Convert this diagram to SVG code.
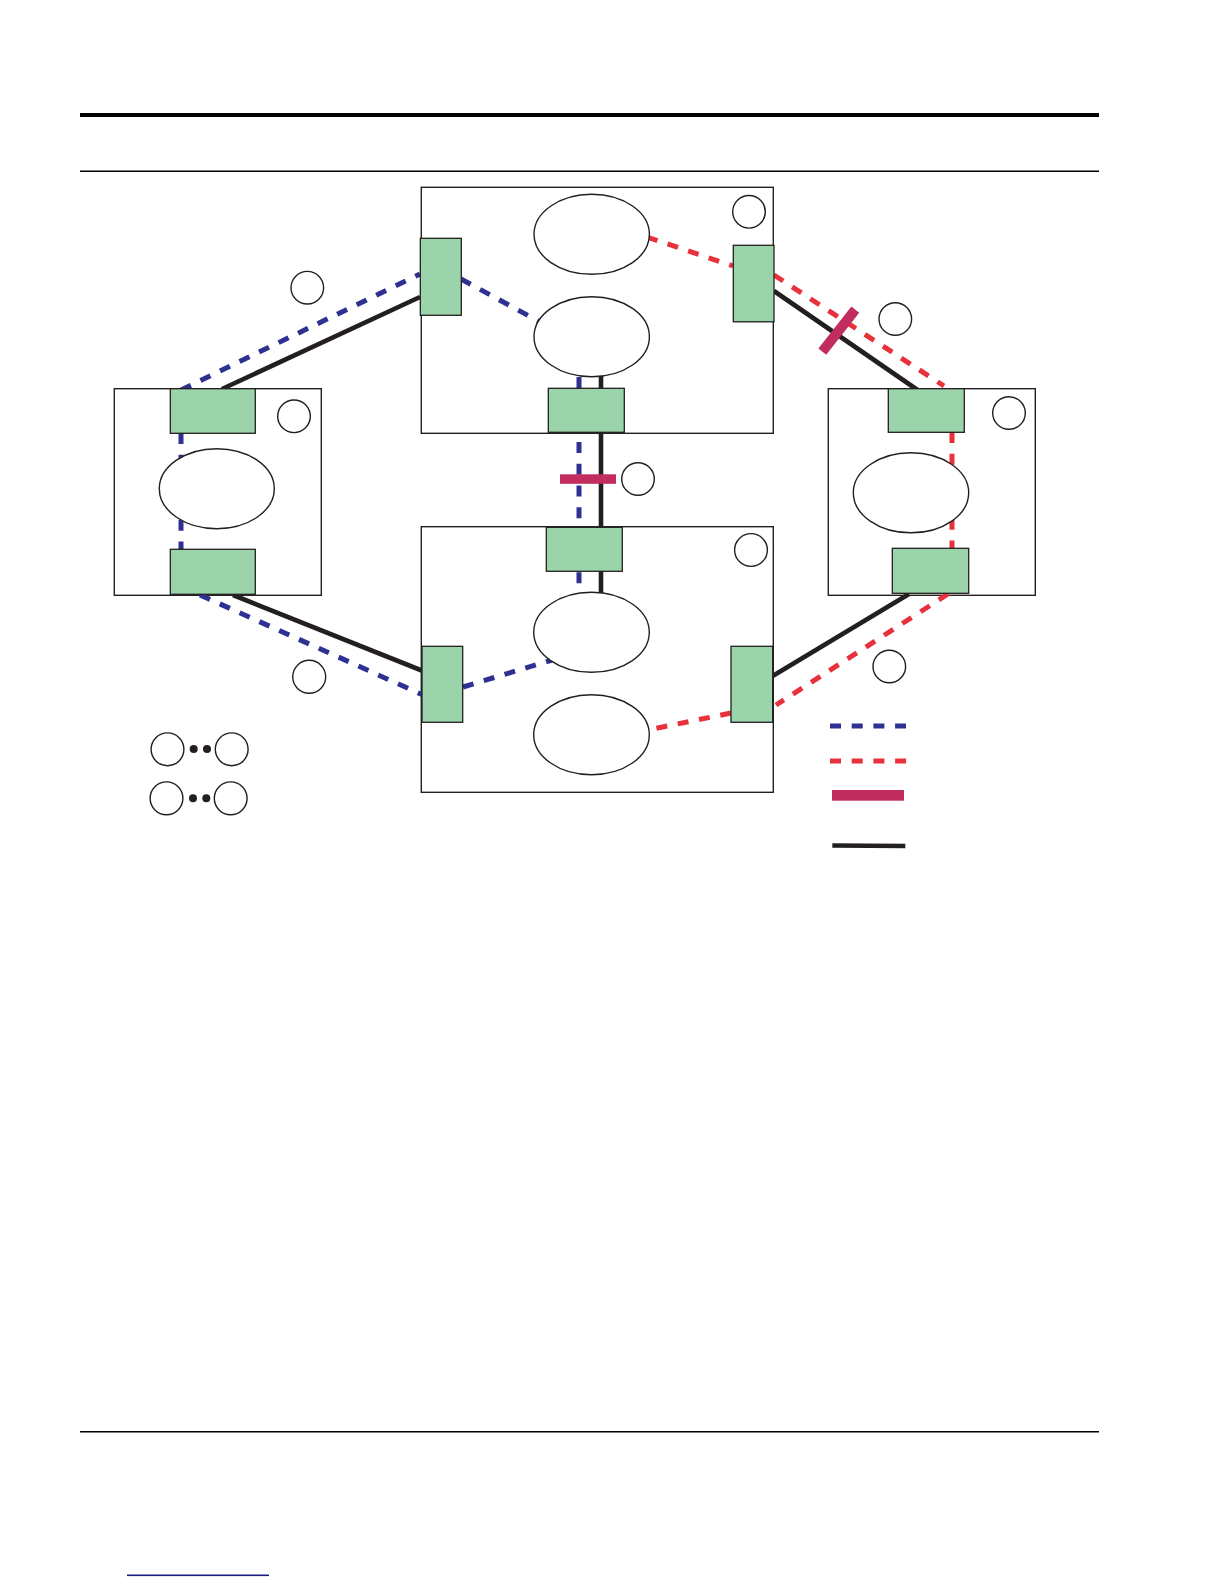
<svg xmlns="http://www.w3.org/2000/svg" width="1224" height="1584" viewBox="0 0 1224 1584">
<style>
.frame{fill:#fff;stroke:#231f20;stroke-width:1.4}
.port{fill:#9bd3aa;stroke:#231f20;stroke-width:1.3}
.ell{fill:#fff;stroke:#231f20;stroke-width:1.4}
.lbl{fill:#fff;stroke:#231f20;stroke-width:1.4}
.blue{stroke:#2e3192;stroke-width:5;stroke-dasharray:11 10.7;fill:none}
.red{stroke:#e8313a;stroke-width:5;stroke-dasharray:11 10.7;fill:none}
.blk{stroke:#231f20;stroke-width:4.6;fill:none}
.cut{fill:#c12d5f}
</style>
<rect width="1224" height="1584" fill="#fff"/>
<g id="page-rules">
<rect x="80" y="113" width="1019" height="4" fill="#000"/>
<rect x="80" y="170.5" width="1019" height="1.5" fill="#000"/>
<rect x="80" y="1431" width="1019" height="1.5" fill="#000"/>
<rect x="127" y="1574.5" width="142" height="1.6" fill="#1a1a80"/>
</g>
<g id="frames">
<rect id="box-top" class="frame" x="421.3" y="187.3" width="352" height="246"/>
<rect id="box-left" class="frame" x="114.3" y="388.7" width="207" height="206.6"/>
<rect id="box-right" class="frame" x="828.3" y="388.7" width="207" height="206.6"/>
<rect id="box-bottom" class="frame" x="421.3" y="526.7" width="352" height="265.6"/>
</g>
<g id="connectors">
<line class="blue" x1="181" y1="390" x2="420" y2="274"/>
<line class="blue" x1="461" y1="279" x2="540" y2="322"/>
<line class="blue" x1="181" y1="433" x2="181" y2="549"/>
<line class="blue" x1="200" y1="595" x2="423" y2="695"/>
<line class="blue" x1="463" y1="687" x2="552" y2="660"/>
<line class="blue" x1="579" y1="377" x2="579" y2="596"/>
<line class="red" x1="647" y1="237" x2="733" y2="266"/>
<line class="red" x1="774" y1="275" x2="944" y2="386"/>
<line class="red" x1="952" y1="432" x2="952" y2="548"/>
<line class="red" x1="948" y1="594" x2="776" y2="705"/>
<line class="red" x1="731" y1="713" x2="648" y2="730"/>
<line class="blk" x1="222" y1="389" x2="420" y2="297"/>
<line class="blk" x1="233" y1="595" x2="423" y2="671"/>
<line class="blk" x1="774" y1="291" x2="919" y2="391"/>
<line class="blk" x1="909" y1="594" x2="771" y2="677"/>
<line class="blk" x1="601" y1="376" x2="601" y2="593"/>
<line stroke="#c12d5f" stroke-width="10" x1="855.3" y1="309.7" x2="822.3" y2="351.7"/>
<rect class="cut" x="560" y="474.3" width="56" height="9.5"/>
</g>
<g id="node-top">
<ellipse class="ell" cx="591.7" cy="234.3" rx="57.7" ry="40"/>
<ellipse class="ell" cx="591.7" cy="336.7" rx="57.7" ry="40"/>
<rect class="port" x="420.3" y="238.3" width="41" height="77"/>
<rect class="port" x="733.3" y="245.3" width="40.7" height="76.5"/>
<rect class="port" x="548.3" y="388.3" width="76" height="44"/>
<circle class="lbl" cx="749" cy="211.8" r="16.3"/>
</g>
<g id="node-left">
<ellipse class="ell" cx="216.8" cy="488.7" rx="57.5" ry="40"/>
<rect class="port" x="170.3" y="388.7" width="85" height="44.6"/>
<rect class="port" x="170.3" y="549.3" width="85" height="45"/>
<circle class="lbl" cx="294" cy="416.3" r="16.3"/>
</g>
<g id="node-right">
<ellipse class="ell" cx="911" cy="492.8" rx="57.7" ry="40"/>
<rect class="port" x="888.3" y="388.7" width="76" height="43.6"/>
<rect class="port" x="892.3" y="548.3" width="76.4" height="45"/>
<circle class="lbl" cx="1009" cy="413" r="16.3"/>
</g>
<g id="node-bottom">
<ellipse class="ell" cx="591.5" cy="632.3" rx="57.8" ry="40"/>
<ellipse class="ell" cx="591.5" cy="734.7" rx="57.8" ry="40"/>
<rect class="port" x="546.3" y="527.3" width="76" height="44"/>
<rect class="port" x="422" y="646.3" width="40.7" height="76"/>
<rect class="port" x="731" y="646.3" width="41.7" height="76"/>
<circle class="lbl" cx="751" cy="550" r="16.4"/>
</g>
<g id="link-labels">
<circle class="lbl" cx="307.3" cy="287.7" r="16.3"/>
<circle class="lbl" cx="895.3" cy="319" r="16.3"/>
<circle class="lbl" cx="638" cy="479" r="16.3"/>
<circle class="lbl" cx="309.2" cy="676.8" r="16.5"/>
<circle class="lbl" cx="889.3" cy="666.5" r="16.3"/>
</g>
<g id="legend-pairs">
<circle class="lbl" cx="167.5" cy="749.3" r="16.4"/>
<circle class="lbl" cx="231.7" cy="749.3" r="16.4"/>
<circle cx="193.7" cy="749" r="4" fill="#231f20"/>
<circle cx="207" cy="749" r="4" fill="#231f20"/>
<circle class="lbl" cx="166.5" cy="798.3" r="16.4"/>
<circle class="lbl" cx="230.7" cy="798.3" r="16.4"/>
<circle cx="193" cy="798.3" r="4" fill="#231f20"/>
<circle cx="206.3" cy="798.3" r="4" fill="#231f20"/>
</g>
<g id="legend-lines">
<line class="blue" x1="830" y1="726" x2="906" y2="726"/>
<line class="red" x1="830" y1="761" x2="906.5" y2="761"/>
<rect class="cut" x="832" y="790" width="72" height="10.7"/>
<line class="blk" x1="832.3" y1="845.5" x2="905.3" y2="846"/>
</g>
</svg>
